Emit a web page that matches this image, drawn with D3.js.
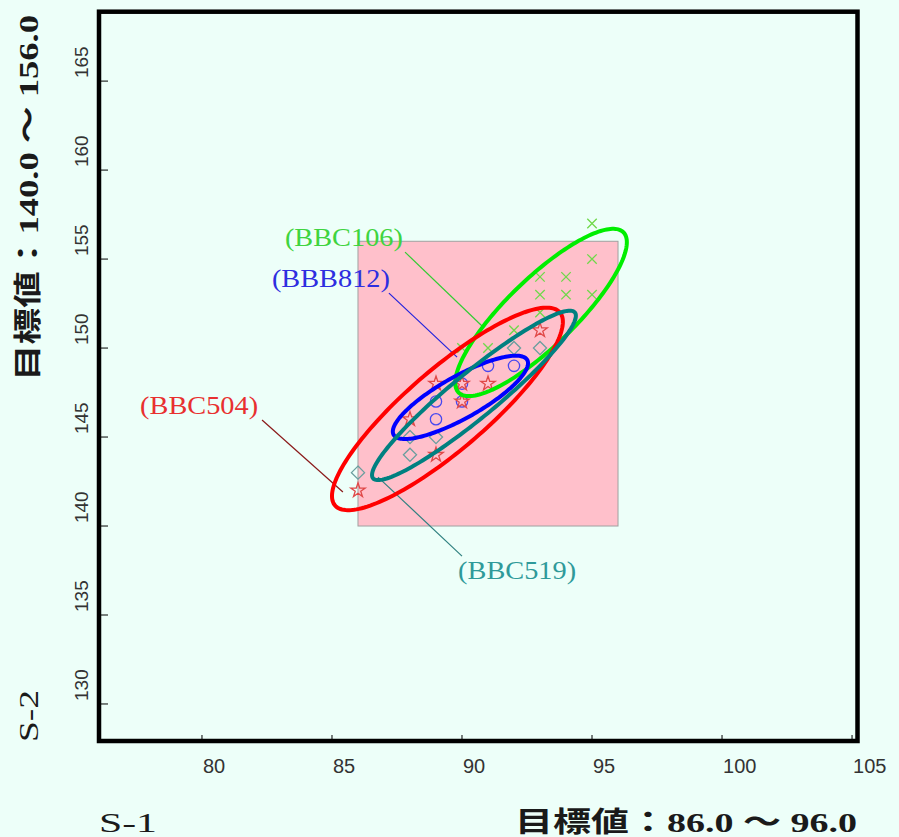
<!DOCTYPE html>
<html>
<head>
<meta charset="utf-8">
<script src="https://cdnjs.cloudflare.com/ajax/libs/d3/7.8.5/d3.min.js"></script>
<style>
  html, body { margin: 0; padding: 0; background: #edfff9; }
  svg { display: block; }
</style>
</head>
<body>
<div id="chart"></div>
<script>
const width = 899,
      height = 837;

// series names
const seriesNames = ["BBC106", "BBB812", "BBC504", "BBC519"];

// measured points per series [S-1, S-2]
const pts106 = [[95,157],[95,155],[93,154],[94,154],[93,153],[94,153],[95,153],[93,152],[92,151],[90,150],[91,150]];
const pts812 = [[89,147],[89,146],[90,147],[90,148],[91,149],[92,149]];
const pts504 = [[86,142],[88,146],[89,148],[89,144],[90,148],[90,147],[91,148],[93,151]];
const pts519 = [[86,143],[88,144],[88,145],[89,145],[92,150],[93,150]];

// ellipse: centre, half range in x / y, correlation
const ellCenter = [[93.04,152.0],[89.94,147.23],[89.44,146.58],[90.46,147.34]];
const ellHalf = [[3.3,4.7],[2.6,2.34],[4.44,5.69],[3.92,4.76]];
const ellCorr = [0.84, 0.82, 0.86, 0.94];

// target range
const targetX = [86.0, 96.0];
const targetY = [140.0, 156.0];

// axis ticks
const xTicks = [80, 85, 90, 95, 100, 105];
const yTicks = [130, 135, 140, 145, 150, 155, 160, 165];

const xDomain = [76.04, 105.21];
const yDomain = [127.92, 168.9];

// label anchors (text start, leader start, leader end) in data units
const labelText = [[83.19,155.73],[82.69,153.43],[77.62,146.29],[89.85,137.02]];
const leaderFrom = [[87.81,155.39],[87.19,153.09],[82.31,145.96],[90.0,138.31]];
const leaderTo = [[90.81,151.18],[89.81,149.49],[85.42,141.91],[86.77,142.75]];

const ellColor = ["#00ee00", "#0000ff", "#ff0000", "#008080"];
const textColor = ["#3fd43f", "#2e2ee0", "#e83030", "#2f9a9a"];
const leaderColor = ["#33cc33", "#2222dd", "#8b1a1a", "#2f8080"];
const markColor = ["#6fd84a", "#4848f0", "#e04848", "#6a9e9e"];

const plot = { left: 99, right: 857.5, top: 11.7, bottom: 741 };

var svg = d3.select('#chart').append('svg')
  .attr('width', width)
  .attr('height', height);

svg.append('rect')
  .attr('width', width).attr('height', height)
  .attr('fill', '#edfff9');

const x = d3.scaleLinear().domain(xDomain).range([plot.left, plot.right]);
const y = d3.scaleLinear().domain(yDomain).range([plot.bottom, plot.top]);

// target box
svg.append('rect')
  .attr('x', x(targetX[0]))
  .attr('y', y(targetY[1]))
  .attr('width', x(targetX[1]) - x(targetX[0]))
  .attr('height', y(targetY[0]) - y(targetY[1]))
  .attr('fill', 'pink')
  .attr('stroke', '#a0a0a0')
  .attr('stroke-width', 1);

// ticks
svg.append('g').selectAll('line').data(xTicks)
  .enter().append('line')
  .attr('x1', d => x(d)).attr('x2', d => x(d))
  .attr('y1', plot.bottom).attr('y2', plot.bottom - 6)
  .attr('stroke', '#000').attr('stroke-width', 1);

svg.append('g').selectAll('line').data(yTicks)
  .enter().append('line')
  .attr('x1', plot.left).attr('x2', plot.left + 9)
  .attr('y1', d => y(d)).attr('y2', d => y(d))
  .attr('stroke', '#000').attr('stroke-width', 1);

svg.append('g').selectAll('text').data(xTicks)
  .enter().append('text')
  .attr('x', d => x(d) + 1)
  .attr('y', 773)
  .attr('font-family', 'Liberation Sans, Arial, sans-serif')
  .attr('font-size', 20)
  .attr('fill', '#333')
  .text(d => d);

svg.append('g').selectAll('text').data(yTicks)
  .enter().append('text')
  .attr('transform', d => `translate(88,${y(d) - 3}) rotate(-90)`)
  .attr('font-family', 'Liberation Sans, Arial, sans-serif')
  .attr('font-size', 19)
  .attr('fill', '#333')
  .text(d => d);

// leader lines
svg.append('g').selectAll('line').data(seriesNames)
  .enter().append('line')
  .attr('x1', (d, i) => x(leaderFrom[i][0])).attr('y1', (d, i) => y(leaderFrom[i][1]))
  .attr('x2', (d, i) => x(leaderTo[i][0])).attr('y2', (d, i) => y(leaderTo[i][1]))
  .attr('stroke', (d, i) => leaderColor[i])
  .attr('stroke-width', 1.2);

// markers
const allPts = [pts106, pts812, pts504, pts519];
const symTypes = [d3.symbolTimes, d3.symbolCircle, d3.symbolStar, d3.symbolDiamond2];
const symSizes = [60, 100, 65, 110];

allPts.forEach(function(pts, i) {
  svg.append('g').selectAll('path').data(pts)
    .enter().append('path')
    .attr('transform', d => `translate(${x(d[0])},${y(d[1])})`)
    .attr('d', d3.symbol().type(symTypes[i]).size(symSizes[i]))
    .attr('fill', 'none')
    .attr('stroke', markColor[i])
    .attr('stroke-width', 1.3);
});

// ellipses
const tSteps = d3.range(0, 2 * Math.PI, Math.PI / 90);
const ellLine = d3.line().x(d => x(d[0])).y(d => y(d[1])).curve(d3.curveLinearClosed);

seriesNames.forEach(function(name, i) {
  const c = ellCenter[i], h = ellHalf[i], r = ellCorr[i];
  const ring = tSteps.map(t => [
    c[0] + h[0] * Math.cos(t),
    c[1] + h[1] * (r * Math.cos(t) + Math.sqrt(1 - r * r) * Math.sin(t))
  ]);
  svg.append('path')
    .attr('d', ellLine(ring))
    .attr('fill', 'none')
    .attr('stroke', ellColor[i])
    .attr('stroke-width', 4);
});

// series labels
svg.append('g').selectAll('text').data(seriesNames)
  .enter().append('text')
  .attr('x', (d, i) => x(labelText[i][0]))
  .attr('y', (d, i) => y(labelText[i][1]))
  .attr('font-family', 'Liberation Serif, Times New Roman, serif')
  .attr('font-size', 26)
  .attr('textLength', 118)
  .attr('lengthAdjust', 'spacingAndGlyphs')
  .attr('fill', (d, i) => textColor[i])
  .text(d => `(${d})`);

// frame
svg.append('rect')
  .attr('x', plot.left).attr('y', plot.top)
  .attr('width', plot.right - plot.left)
  .attr('height', plot.bottom - plot.top)
  .attr('fill', 'none')
  .attr('stroke', '#000')
  .attr('stroke-width', 4.5);

// axis titles
const titleFont = 'Liberation Serif, Noto Sans CJK JP, serif';

svg.append('text')
  .attr('x', 99).attr('y', 832)
  .attr('font-family', titleFont).attr('font-size', 28)
  .attr('textLength', 58).attr('lengthAdjust', 'spacingAndGlyphs')
  .attr('fill', '#1a1a1a')
  .text('S-1');

svg.append('text')
  .attr('x', 515).attr('y', 832)
  .attr('font-family', titleFont).attr('font-size', 28).attr('font-weight', 'bold')
  .attr('textLength', 342).attr('lengthAdjust', 'spacingAndGlyphs')
  .attr('fill', '#1a1a1a')
  .text('目標値：' + targetX[0].toFixed(1) + ' ～ ' + targetX[1].toFixed(1));

svg.append('text')
  .attr('transform', 'translate(38,742) rotate(-90)')
  .attr('font-family', titleFont).attr('font-size', 28)
  .attr('textLength', 52).attr('lengthAdjust', 'spacingAndGlyphs')
  .attr('fill', '#1a1a1a')
  .text('S-2');

svg.append('text')
  .attr('transform', 'translate(38,381) rotate(-90)')
  .attr('font-family', titleFont).attr('font-size', 28).attr('font-weight', 'bold')
  .attr('textLength', 366).attr('lengthAdjust', 'spacingAndGlyphs')
  .attr('fill', '#1a1a1a')
  .text('目標値：' + targetY[0].toFixed(1) + ' ～ ' + targetY[1].toFixed(1));
</script>
</body>
</html>
